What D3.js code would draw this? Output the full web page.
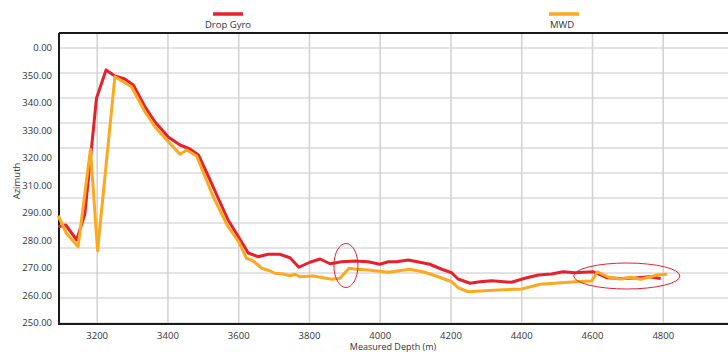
<!DOCTYPE html>
<html>
<head>
<meta charset="utf-8">
<script src="https://cdn.jsdelivr.net/npm/d3@7"></script>
<style>
  body { margin: 0; background: #fff; }
  svg { display: block; font-family: 'Open Sans', sans-serif; }
</style>
</head>
<body>
<div id="chart"></div>
<script>
// Drop Gyro survey: measured depth (m) / azimuth
const gyroDepth = [3090, 3111, 3142, 3165, 3198, 3225, 3250, 3278, 3302, 3335, 3363, 3401, 3434, 3462, 3486,
    3519, 3538, 3570, 3599, 3627, 3655, 3683, 3716, 3745, 3770, 3801, 3830, 3858, 3891, 3929, 3966, 3999,
    4023, 4046, 4079, 4112, 4140, 4174, 4202, 4220, 4254, 4282, 4315, 4371, 4409, 4447, 4484, 4517, 4550,
    4602, 4640, 4680, 4720, 4760, 4793];
const gyroAz = [288.5, 289.2, 283.2, 293.6, 339.9, 351.2, 348.8, 347.6, 345.2, 336.5, 330.5, 324.4, 321.2, 319.6, 317.2,
    307.2, 301.2, 291.2, 284.5, 278.0, 276.5, 277.5, 277.5, 276.1, 272.3, 274.3, 275.6, 273.7, 274.5, 274.8, 274.5, 273.5,
    274.5, 274.5, 275.2, 274.3, 273.5, 271.5, 270.1, 267.6, 265.9, 266.5, 266.9, 266.3, 267.9, 269.2, 269.6, 270.5, 270.1,
    270.5, 268.1, 267.8, 268.0, 268.5, 267.8];

// MWD survey
const mwdDepth = [3090, 3113, 3146, 3181, 3201, 3250, 3297, 3335, 3363, 3401, 3434, 3453, 3481, 3528, 3570, 3600,
    3622, 3641, 3665, 3688, 3702, 3726, 3745, 3759, 3773, 3811, 3839, 3863, 3886, 3912, 3933, 3966, 4023, 4084,
    4126, 4164, 4202, 4220, 4249, 4296, 4334, 4400, 4452, 4513, 4550, 4598, 4614, 4646, 4679, 4708, 4736, 4764,
    4783, 4811];
const mwdAz = [292.9, 285.9, 280.5, 319.5, 278.9, 348.5, 344.5, 334.5, 328.5, 322.5, 317.5, 319.2, 316.8, 300.5, 288.5, 282.5,
    275.9, 274.8, 271.9, 270.9, 269.9, 269.6, 268.9, 269.5, 268.5, 268.8, 268.1, 267.5, 267.9, 271.9, 271.5, 271.2, 270.3, 271.5,
    270.3, 268.5, 266.5, 264.1, 262.5, 262.9, 263.2, 263.6, 265.5, 266.1, 266.5, 266.8, 270.5, 268.3, 267.6, 268.3, 267.5, 268.5,
    269.2, 269.5];

const xTicks = [3200, 3400, 3600, 3800, 4000, 4200, 4400, 4600, 4800];
const yTickLabels = ['0.00', '350.00', '340.00', '330.00', '320.00', '310.00', '290.00', '280.00', '270.00', '260.00', '250.00'];
const seriesNames = ['Drop Gyro', 'MWD'];
const seriesColors = ['#e8202e', '#fca91f'];

// highlighted areas (centre depth, centre azimuth, half-width m, half-height deg)
const rings = [
    { depth: 3903, az: 273, rd: 34, ra: 8.8 },
    { depth: 4697, az: 268.8, rd: 150, ra: 5.2 }
];

const width = 728, height = 352;
const plotLeft = 59, plotTop = 33, plotBottom = 323, plotRight = 734;

const svg = d3.select('#chart').append('svg')
    .attr('width', width)
    .attr('height', height);

const x = d3.scaleLinear().domain([3092, 5000]).range([plotLeft, plotRight]);
const y = d3.scaleLinear().domain([250, 360]).range([plotBottom, 48]);
const yLab = d3.scalePoint().domain(yTickLabels).range([48, plotBottom]);

// grid
svg.append('g').selectAll('line')
    .data(y.ticks(11))
    .enter().append('line')
    .attr('x1', plotLeft).attr('x2', width)
    .attr('y1', d => y(d)).attr('y2', d => y(d))
    .attr('stroke', '#dadada')
    .attr('stroke-width', 1.5);

svg.append('g').selectAll('line')
    .data(xTicks)
    .enter().append('line')
    .attr('x1', d => x(d)).attr('x2', d => x(d))
    .attr('y1', plotTop).attr('y2', plotBottom)
    .attr('stroke', '#d2d2d2')
    .attr('stroke-width', 1.5);

// frame
svg.append('line').attr('x1', plotLeft).attr('x2', width).attr('y1', plotTop).attr('y2', plotTop)
    .attr('stroke', '#1a1a1a').attr('stroke-width', 2);
svg.append('line').attr('x1', plotLeft).attr('x2', width).attr('y1', plotBottom + 1).attr('y2', plotBottom + 1)
    .attr('stroke', '#1a1a1a').attr('stroke-width', 2);
svg.append('line').attr('x1', plotLeft).attr('x2', plotLeft).attr('y1', plotTop).attr('y2', plotBottom + 2)
    .attr('stroke', '#1a1a1a').attr('stroke-width', 2);

// tick labels
svg.append('g').selectAll('text')
    .data(yTickLabels)
    .enter().append('text')
    .text(d => d)
    .attr('x', 52)
    .attr('y', d => yLab(d))
    .attr('dy', '0.35em')
    .attr('text-anchor', 'end')
    .style('font-size', '9.5px')
    .style('fill', '#333');

svg.append('g').selectAll('text')
    .data(xTicks)
    .enter().append('text')
    .text(d => d)
    .attr('x', d => x(d))
    .attr('y', 338.5)
    .attr('text-anchor', 'middle')
    .style('font-size', '9.5px')
    .style('fill', '#333');

svg.append('text')
    .text('Azimuth')
    .attr('transform', `translate(20,181) rotate(-90)`)
    .attr('text-anchor', 'middle')
    .style('font-size', '9.5px')
    .style('fill', '#333');

svg.append('text')
    .text('Measured Depth (m)')
    .attr('x', 393)
    .attr('y', 350)
    .attr('text-anchor', 'middle')
    .style('font-size', '9px')
    .style('fill', '#333');

// lines
const line = d3.line().x(d => x(d[0])).y(d => y(d[1]));
const series = [
    d3.zip(gyroDepth, gyroAz),
    d3.zip(mwdDepth, mwdAz)
];
series.forEach((pts, i) => {
    svg.append('path')
        .datum(pts)
        .attr('d', line)
        .attr('fill', 'none')
        .attr('stroke', seriesColors[i])
        .attr('stroke-width', 3)
        .attr('stroke-linejoin', 'round');
});

// annotation ellipses
svg.append('g').selectAll('ellipse')
    .data(rings)
    .enter().append('ellipse')
    .attr('cx', d => x(d.depth))
    .attr('cy', d => y(d.az))
    .attr('rx', d => x(d.depth + d.rd) - x(d.depth))
    .attr('ry', d => y(d.az - d.ra) - y(d.az))
    .attr('fill', 'none')
    .attr('stroke', '#e8202e')
    .attr('stroke-width', 1);

// legend
const legendX = [228, 564];
seriesNames.forEach((name, i) => {
    svg.append('line')
        .attr('x1', legendX[i] - 15).attr('x2', legendX[i] + 15)
        .attr('y1', 14).attr('y2', 14)
        .attr('stroke', seriesColors[i])
        .attr('stroke-width', 3.5);
    svg.append('text')
        .text(name)
        .attr('x', legendX[i] - (i === 1 ? 2 : 0))
        .attr('y', 28)
        .attr('text-anchor', 'middle')
        .style('font-size', '9.5px')
        .style('fill', '#333');
});
</script>
</body>
</html>
